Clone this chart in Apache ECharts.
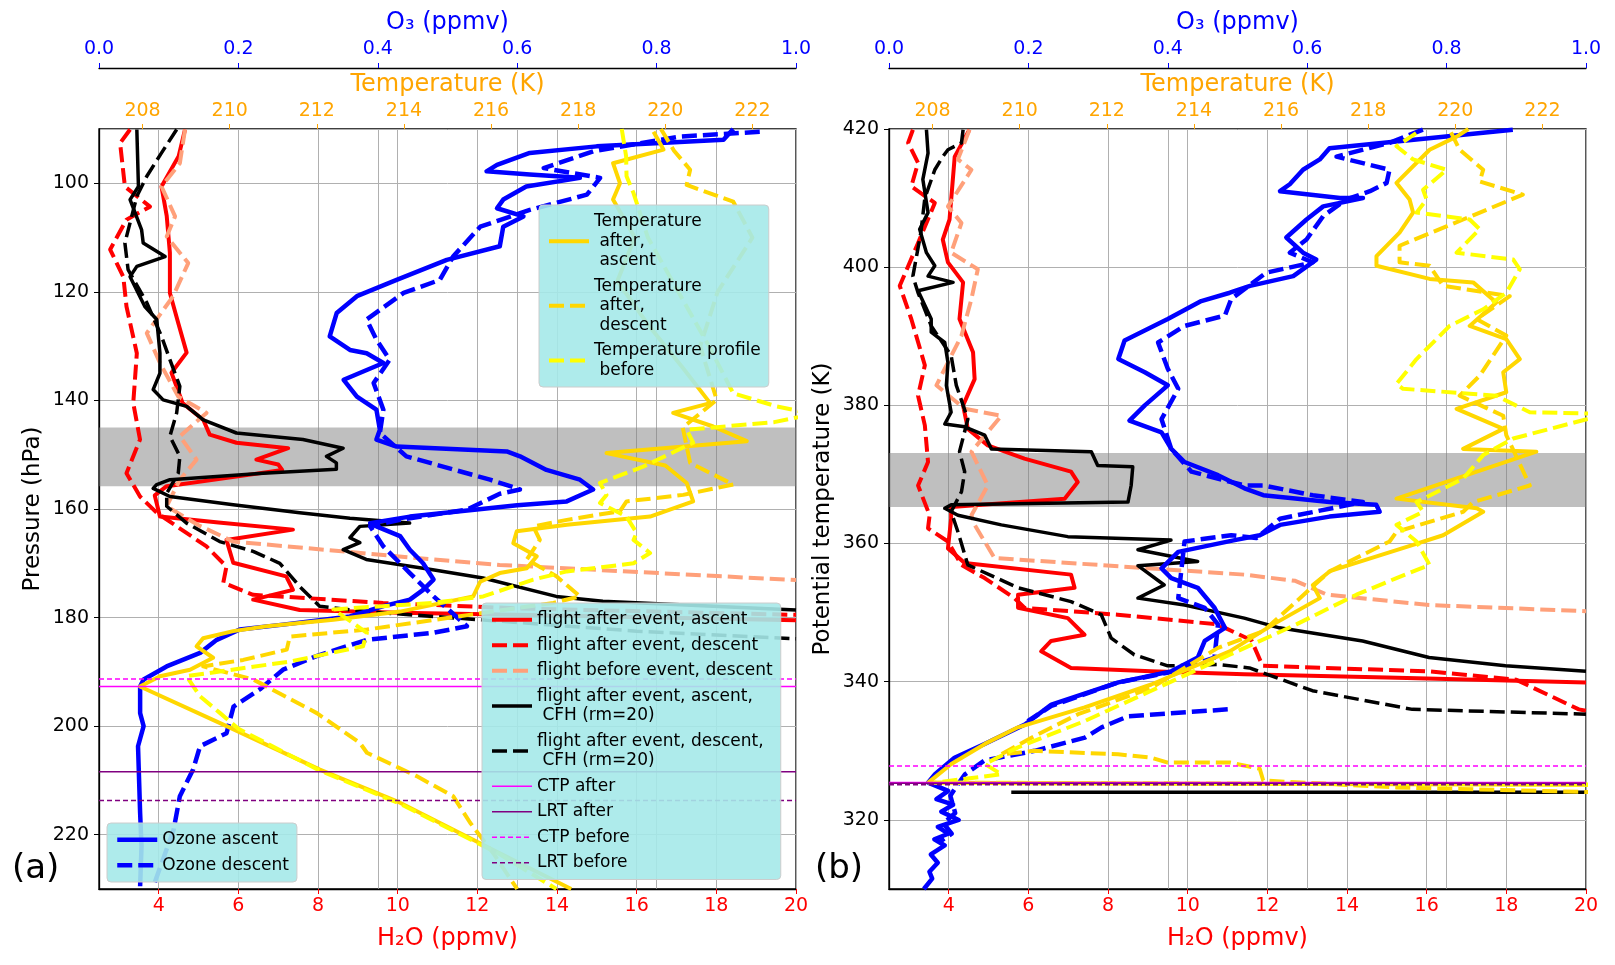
<!DOCTYPE html>
<html>
<head>
<meta charset="utf-8">
<script src="https://cdn.jsdelivr.net/npm/echarts@6/dist/echarts.min.js"></script>
<style>
  html, body { margin: 0; padding: 0; background: #fff; }
  #chart { width: 1615px; height: 965px; }
</style>
</head>
<body>
<div id="chart"></div>
<script>
const FONT = 'DejaVu Sans';

// axis ranges
const h2oRange = [2.5, 20];
const o3Range = [0, 1];
const tempRange = [207, 223];
const presRange = [90, 230];
const thetaRange = [310, 420];

// grey layer between the two tropopause estimates
const bandPres = [145, 155.8];
const bandTheta = [365.3, 373.1];

// cloud top / lapse rate tropopause levels
const ctpAfterP = 192.7, lrtAfterP = 208.4, ctpBeforeP = 191.3, lrtBeforeP = 213.7;
const ctpAfterTh = 325.4, lrtAfterTh = 325.3, ctpBeforeTh = 327.8, lrtBeforeTh = 325.1;

// ---------- panel (a): [value, pressure hPa] ----------
const redAscP = [[4.66,90.1],[4.5,95],[4.07,100.6],[4.2,106],[4.28,112.8],[4.28,120.2],[4.5,126],[4.7,131.2],[4.32,134.9],[4.6,140.5],[5.12,143.6],[5.28,146.3],[5.95,147.8],[7.25,148.8],[6.45,150.9],[7.0,151.8],[7.1,152.8],[5.5,154.5],[4.2,155.8],[3.9,157.5],[4.03,161.4],[5.5,162.5],[7.37,163.8],[5.7,165.7],[5.87,169.9],[7.2,172.4],[7.37,174.9],[6.37,176.7],[7.54,178.6],[10.05,179.1],[14,179.6],[20,180.5]];
const redDesP = [[3.28,90.1],[3.03,92.6],[3.15,100.6],[3.78,104.3],[3.19,106.7],[2.78,112.2],[3.11,117.2],[3.19,122.7],[3.45,131.3],[3.36,140.5],[3.53,147.2],[3.19,153.4],[3.53,157.7],[3.95,160.7],[5.2,166.9],[5.7,170.6],[5.62,173.6],[6.37,175.8],[9.63,177.3],[13,178.3],[20,179.5]];
const salmonDesP = [[4.66,90.1],[4.53,96.3],[4.07,100.6],[4.41,106.1],[4.2,109.8],[4.74,114.7],[4.36,120.8],[3.7,127.6],[4.03,133.1],[4.49,139.3],[5.2,142.3],[4.53,146.6],[4.95,150.9],[4.53,154.6],[4.2,159.5],[5.0,163],[5.87,166],[9.97,168.7],[12.56,170.3],[20,173.1]];
const cfhAscP = [[3.45,90.1],[3.49,100.6],[3.28,103],[3.57,108.6],[3.61,111],[4.16,113.5],[3.45,115.3],[3.28,117.2],[3.65,122.7],[3.95,125.1],[4.03,131.3],[4.03,135],[3.86,138],[4.11,139.9],[4.7,141.1],[5.12,143.6],[5.95,146],[7.62,147.2],[8.63,148.8],[8.21,150.3],[8.46,151.5],[8.46,152.7],[6.62,153.4],[4.28,154.6],[3.95,155.5],[3.86,156.2],[4.28,157.7],[5.87,159.2],[7.54,160.7],[8.8,161.7],[10.3,162.6],[9.05,163.2],[8.8,165.3],[9.05,166.2],[8.63,167.5],[9.21,169.3],[10.88,171.2],[12.14,172.7],[13.98,176.1],[15.15,177],[20,178.6]];
const cfhDesP = [[4.45,90.1],[4.07,94.4],[3.7,98.7],[3.45,102.4],[3.15,111],[3.23,115.9],[3.7,122],[4.07,128.2],[4.28,132.5],[4.53,137.4],[4.45,142.3],[4.28,146.6],[4.53,150.3],[4.49,153.4],[4.2,157.1],[4.2,159.5],[4.7,162.6],[5.53,166],[6.37,167.8],[7.04,170],[7.54,174.3],[8.04,177.9],[9.21,178.9],[12.06,180.4],[16,182.5],[20,183.9]];
const o3AscP = [[0.91,90],[0.896,92],[0.714,93.2],[0.618,94.4],[0.571,96.6],[0.556,97.8],[0.618,98.4],[0.69,99],[0.613,100.6],[0.58,103],[0.571,104.6],[0.609,106.1],[0.58,108],[0.575,111.6],[0.499,114.1],[0.427,117.8],[0.37,120.8],[0.341,123.9],[0.331,128.2],[0.36,130.7],[0.384,131.3],[0.408,133.1],[0.351,136.2],[0.37,139.3],[0.398,141.7],[0.403,145.4],[0.398,147.2],[0.427,148.5],[0.585,149.4],[0.604,150.3],[0.642,152.8],[0.69,154.6],[0.709,156.4],[0.671,158.6],[0.6,159.3],[0.542,160.1],[0.446,161.4],[0.389,162.6],[0.398,163.2],[0.432,165],[0.446,167.5],[0.465,170],[0.48,173],[0.465,174.9],[0.446,176.7],[0.408,177.9],[0.36,179.8],[0.264,181.3],[0.202,182.2],[0.169,184.1],[0.145,186.5],[0.097,189],[0.064,191.4],[0.059,192.7],[0.059,197.6],[0.064,200],[0.056,203.7],[0.059,216],[0.061,222.1],[0.059,229.5]];
const o3DesP = [[0.948,90.5],[0.834,91.4],[0.709,94.1],[0.638,97.2],[0.719,99],[0.7,102.1],[0.618,104.9],[0.547,108],[0.508,113.5],[0.489,117.8],[0.437,120.2],[0.384,125.1],[0.398,128.8],[0.417,132.5],[0.394,136.8],[0.408,141.7],[0.403,146],[0.441,150.3],[0.561,154.6],[0.59,155.8],[0.604,156.4],[0.575,157.2],[0.528,160.1],[0.432,162],[0.389,163.2],[0.408,166.9],[0.446,171.8],[0.48,176.1],[0.528,181.6],[0.48,182.8],[0.384,184.1],[0.312,187.1],[0.264,189.6],[0.231,193.2],[0.193,196.4],[0.183,201.3],[0.145,203.7],[0.135,208],[0.116,212.9],[0.107,219.1],[0.078,229.5]];
const tAscP = [[219.73,90.5],[219.96,93.8],[218.8,96.3],[218.96,100],[218.8,103],[219.3,110],[218.9,118],[219.6,126],[220.4,134],[221.03,140.5],[220.18,142.3],[221.1,144.8],[221.87,147.5],[218.65,149.7],[220.0,152],[220.49,155.2],[220.64,158.6],[219.65,161.4],[217.74,162.9],[216.59,164.1],[216.51,166.3],[217.05,168.7],[216.82,170.9],[216.2,171.8],[215.75,173.4],[215.59,176.1],[213.91,178.9],[212.38,180.4],[210.85,181.6],[210.08,182.5],[209.39,183.8],[209.24,185.3],[209.62,187.4],[209.09,189.6],[208.4,190.8],[207.94,192.7],[209.93,200],[212.07,208],[213.91,214.1],[216.2,223.4],[217.84,230]];
const tDesP = [[219.9,90],[220.2,94],[220.57,97.5],[220.49,100.3],[221.56,103.4],[222,110],[221.2,120],[220.8,130],[221.18,139.9],[220.4,145],[220.57,151.5],[221.56,155.5],[220.41,157.4],[219.11,158.6],[218.96,160.4],[217.74,162],[216.97,163.2],[217.12,165.7],[216.82,169.3],[217.5,172.4],[218.04,176.1],[217.43,177.3],[215.5,179.5],[213.15,182.2],[211.38,183.5],[211.31,185.9],[210.31,187.8],[209.39,189],[210.54,191.4],[212,197.6],[212.99,203.1],[213.15,204.9],[214.29,209.2],[215.13,212.9],[215.52,217.8],[216.05,223.4],[216.6,230]];
const tBeforeP = [[219.0,90],[219.1,95],[219.11,98.7],[219.27,101.8],[219.6,110],[220.3,120],[221,130],[221.56,138.7],[222.56,141.1],[223.4,142.5],[222.5,144],[220.49,145.4],[220.64,147.8],[219.49,152.2],[218.5,155.2],[218.65,157.4],[218.5,158.9],[219.11,161.4],[219.34,164.4],[219.27,165.7],[219.65,168.1],[219.27,170],[217.74,171.5],[216.97,173],[215.82,176.1],[214.67,177.3],[212.38,178.5],[213.15,182.8],[213.06,185.3],[211.38,188.1],[209.01,190.8],[209.32,194.5],[209.78,197.6],[210.2,200.5],[212.07,208.2],[213.91,214.3],[216.2,223.6],[217.5,230]];

// ---------- panel (b): [value, potential temperature K] ----------
const redAscTh = [[4.52,419.9],[4.15,416],[4.02,406.9],[3.85,404],[3.98,400.7],[4.36,397.8],[4.27,392.5],[4.61,387.7],[4.65,383.8],[4.36,380],[4.48,376.6],[4.98,374.2],[5.9,372.3],[7.07,370.4],[7.24,368.9],[6.91,366.5],[4.06,365.3],[4.06,363.6],[3.98,359.3],[4.4,357.2],[7.07,355.5],[7.16,353.6],[5.74,352.6],[5.74,350.7],[6.99,349.2],[7.41,346.8],[6.57,345.9],[6.32,344.4],[7.07,342],[9.08,341.5],[11.42,341.1],[15,340.6],[20,339.9]];
const redDesTh = [[3.1,419.9],[2.98,418],[3.23,415.1],[3.06,411.7],[3.65,409.3],[3.23,403.5],[2.77,397.3],[3.06,392.5],[3.4,385.8],[3.23,381.4],[3.4,377.1],[3.48,371.8],[3.23,368.4],[3.52,364.1],[3.48,362.2],[3.98,360.3],[4.32,356.9],[4.9,355],[5.65,352.1],[5.9,350.7],[8.24,349.7],[10.75,348.3],[11.6,346],[11.88,342.3],[16.06,341.5],[18.24,340.3],[19.82,336],[20,335.8]];
const salmonDesTh = [[4.52,419.9],[4.23,415.6],[4.57,414.1],[3.98,408.8],[4.32,406.4],[4.06,402.1],[4.73,399.7],[4.57,395.4],[4.32,390.1],[3.69,382.9],[4.4,379.5],[5.32,378.5],[4.57,373.3],[4.98,368.4],[4.57,364.1],[4.65,362.7],[5.15,357.9],[9.08,356.4],[11.42,355.5],[12.7,354.6],[13.5,352.6],[16.06,351.1],[20,350.2]];
const cfhAscTh = [[3.44,419.9],[3.48,416.5],[3.35,412.7],[3.48,407.9],[3.27,405.5],[3.44,402.1],[3.65,400.2],[3.48,398.7],[4.11,397.8],[3.23,396.6],[3.56,392.5],[3.56,390.6],[3.9,389.1],[3.98,386.2],[3.94,382.9],[4.06,379],[3.9,377.3],[4.4,376.9],[4.9,375.7],[5.07,373.7],[7.58,373.3],[7.74,371.3],[8.62,371.1],[8.58,368.4],[8.5,366],[4.06,365.6],[3.9,365.1],[4.23,364.1],[5.32,362.7],[6.99,361],[9.58,360.5],[8.75,359.1],[10.25,357.4],[8.75,356.8],[9.41,354],[8.75,352.1],[9.92,351.1],[11.42,349.2],[12.3,347.8],[14.39,345.9],[16.06,343.5],[17.98,342.3],[20,341.5],null,[5.57,324],[20,324]];
const cfhDesTh = [[4.36,419.9],[4.32,418],[3.98,417],[3.85,416],[3.65,414.1],[3.4,410],[3.3,405],[3.1,398.7],[3.23,396.3],[3.56,391.5],[4.06,387.2],[4.19,382.9],[4.48,378],[4.27,373.3],[4.4,370.4],[4.32,367.5],[4.06,364.6],[4.23,361.7],[4.48,356.9],[5.74,353.6],[7.07,351.6],[7.83,349.7],[8.08,346.3],[8.66,343.9],[9.5,342.3],[10.75,342.5],[11.55,342],[13.13,338.7],[15.64,336],[20,335.3]];
const o3AscTh = [[0.895,419.9],[0.728,418.2],[0.632,417.2],[0.618,415.6],[0.594,414.1],[0.575,412],[0.561,411],[0.647,410],[0.68,410],[0.623,408.8],[0.599,406.9],[0.57,404.3],[0.594,402.1],[0.613,401.1],[0.58,398.7],[0.518,397.3],[0.489,396.3],[0.448,395.1],[0.4,392.5],[0.338,389.4],[0.329,386.7],[0.367,384.8],[0.4,382.9],[0.367,380],[0.345,377.8],[0.391,376.1],[0.405,373.7],[0.424,371.8],[0.472,369.9],[0.51,368],[0.537,367],[0.632,366],[0.699,365.6],[0.704,364.6],[0.632,363.9],[0.561,362.7],[0.532,361.2],[0.496,360.5],[0.415,358.8],[0.391,356.4],[0.405,355],[0.443,353.6],[0.467,350.7],[0.482,347.8],[0.453,345.9],[0.443,343.5],[0.405,341.5],[0.329,339.9],[0.233,336.7],[0.195,333.8],[0.137,331],[0.094,329],[0.066,326.6],[0.056,325.4],[0.085,324.2],[0.068,323],[0.092,322.2],[0.075,321.2],[0.1,320],[0.07,319],[0.085,318],[0.065,317.2],[0.08,316.3],[0.06,315],[0.07,313.8],[0.058,312.5],[0.062,311.5],[0.05,310]];
const o3DesTh = [[0.766,419.9],[0.718,418],[0.642,416],[0.718,414.1],[0.714,412.2],[0.69,411],[0.656,409.8],[0.623,407.4],[0.599,404],[0.575,402.1],[0.608,400.7],[0.541,399.2],[0.491,395.4],[0.482,393],[0.424,391.5],[0.386,389.1],[0.4,385.3],[0.415,382.4],[0.391,378],[0.405,373.7],[0.434,370.4],[0.51,368.4],[0.537,368.4],[0.608,367],[0.68,366],[0.62,364.8],[0.561,363.6],[0.527,360.8],[0.491,361.2],[0.424,360.3],[0.415,352.1],[0.453,350.7],[0.472,348.3],[0.467,343.5],[0.41,341.5],[0.329,339.9],[0.233,336.5],[0.199,334.3],null,[0.486,336],[0.343,335],[0.305,333.4],[0.281,331.9],[0.209,330],[0.137,328.6],[0.109,326.6],[0.099,325.2],[0.088,323.5],[0.095,321],[0.078,319.5],[0.09,318],[0.072,316.8]];
const tAscTh = [[220.3,420],[220.03,418.9],[219.41,417],[218.65,412.2],[218.95,409.8],[219.03,407.9],[218.72,405],[218.19,401.6],[218.19,400.2],[219.41,398.3],[220.41,397.8],[220.94,394.9],[220.33,391.5],[221.17,389.6],[221.48,386.7],[221.1,384.8],[221.17,381.9],[220.03,379.5],[221.1,376.6],[220.18,373.7],[221.86,373.3],[218.65,366.5],[220.49,365.1],[220.64,364.6],[219.72,361.2],[219.03,359.8],[217.12,356],[216.73,354],[216.89,352.1],[215.82,348.3],[214.82,344.4],[213.02,339.6],[211.49,336.3],[209.96,333.4],[209.2,331],[208.43,328.1],[207.9,325.4],[209.96,325.3],[223.2,325.1]];
const tDesTh = [[219.9,419.5],[220.1,417],[220.64,414.1],[220.56,412.4],[221.55,410.5],[220.18,406.9],[218.72,403.1],[218.72,400.7],[219.41,400.2],[219.72,397.3],[221.25,395.8],[220.49,392.5],[221.17,390.1],[220.56,384.3],[220.1,381.4],[221.1,378.5],[221.17,375.7],[221.71,368.4],[220.41,366],[220.18,364.6],[218.65,361.7],[218.49,360.3],[217.12,356],[215.59,347.3],[214.55,344.9],[213.02,339.1],[211.34,335.3],[210.27,331.9],[209.58,329.5],[210.35,330],[212.26,329.5],[213.02,329],[213.4,328.3],[214.82,328.3],[215.51,327.4],[215.59,325.7],[218.65,324.7],[223.2,324]];
const tBeforeTh = [[219.1,419.4],[218.65,417.5],[219.03,415.6],[219.8,414.1],[219.26,411.2],[219.34,409.8],[219.11,407.9],[220.33,406.9],[220.56,405.5],[220.03,402.1],[221.33,401.1],[221.48,399.7],[221.17,396.3],[220.64,393.9],[219.87,391.5],[219.11,386.7],[218.65,383.1],[218.8,382.4],[220.94,381.4],[221.71,379],[223.2,378.8],[223.2,378.3],[221.33,375.2],[220.64,372.8],[220.18,369.4],[219.11,366],[219.26,364.6],[218.65,362.7],[219.11,360.3],[219.41,356.9],[218.65,355],[217.73,352.6],[216.35,348.3],[214.82,343.9],[213.02,338.7],[211.49,334.3],[209.96,330.5],[209.2,328.1],[209.58,326.6],[208.05,325.4],[223.2,325.1]];

// legend labels that wrap like the original
const legendText = {
  'Temperature after, ascent': 'Temperature\n after,\n ascent',
  'Temperature after, descent': 'Temperature\n after,\n descent',
  'Temperature profile before': 'Temperature profile\n before',
  'flight after event, ascent, CFH (rm=20)': 'flight after event, ascent,\n CFH (rm=20)',
  'flight after event, descent, CFH (rm=20)': 'flight after event, descent,\n CFH (rm=20)'
};

const DASH = [15, 6];
const THIN_DASH = [5, 3];

function line(name, xi, yi, data, color, width, dash) {
  return {
    name: name, type: 'line', xAxisIndex: xi, yAxisIndex: yi, data: data,
    symbol: 'none', showSymbol: false, silent: true, clip: true, connectNulls: false,
    lineStyle: { color: color, width: width, type: dash || 'solid', cap: 'butt', join: 'round' },
    itemStyle: { color: color },
    emphasis: { disabled: true }
  };
}
function hline(v) { return [[h2oRange[0], v], [h2oRange[1], v]]; }

function panelSeries(xh, xo, xt, yi, d, band, lv) {
  const ctp = line('CTP after', xh, yi, hline(lv[0]), '#ff00ff', 1.5);
  ctp.markArea = {
    silent: true,
    itemStyle: { color: 'rgba(128,128,128,0.5)' },
    data: [[{ yAxis: band[0] }, { yAxis: band[1] }]]
  };
  return [
    line('flight after event, ascent', xh, yi, d[0], '#ff0000', 4),
    line('flight after event, descent', xh, yi, d[1], '#ff0000', 4, DASH),
    line('flight before event, descent', xh, yi, d[2], '#ffa07a', 4, DASH),
    line('flight after event, ascent, CFH (rm=20)', xh, yi, d[3], '#000000', 3.5),
    line('flight after event, descent, CFH (rm=20)', xh, yi, d[4], '#000000', 3.5, DASH),
    line('Ozone ascent', xo, yi, d[5], '#0000ff', 4.5),
    line('Ozone descent', xo, yi, d[6], '#0000ff', 4.5, DASH),
    line('Temperature after, ascent', xt, yi, d[7], '#ffd700', 4),
    line('Temperature after, descent', xt, yi, d[8], '#ffd700', 4, DASH),
    line('Temperature profile before', xt, yi, d[9], '#ffff00', 4, DASH),
    ctp,
    line('LRT after', xh, yi, hline(lv[1]), '#800080', 1.5),
    line('CTP before', xh, yi, hline(lv[2]), '#ff00ff', 1.5, THIN_DASH),
    line('LRT before', xh, yi, hline(lv[3]), '#800080', 1.5, THIN_DASH)
  ];
}

const GRID_LINE = { show: true, lineStyle: { color: '#b0b0b0', width: 1 } };

function h2oAxis(gi) {
  return {
    type: 'value', gridIndex: gi, position: 'bottom', min: h2oRange[0], max: h2oRange[1], splitNumber: 8,
    axisLine: { show: true, onZero: false, lineStyle: { color: '#000', width: 1.3 } },
    axisTick: { show: true, length: 5, lineStyle: { color: '#ff0000' } },
    axisLabel: { color: '#ff0000', fontSize: 19, fontFamily: FONT, margin: 8, showMinLabel: false, showMaxLabel: true },
    splitLine: GRID_LINE,
    name: 'H₂O (ppmv)', nameLocation: 'middle', nameGap: 38,
    nameTextStyle: { color: '#ff0000', fontSize: 24, fontFamily: FONT }
  };
}
function o3Axis(gi) {
  return {
    type: 'value', gridIndex: gi, position: 'top', offset: 61, min: o3Range[0], max: o3Range[1], interval: 0.2,
    axisLine: { show: true, onZero: false, lineStyle: { color: '#000', width: 1.3 } },
    axisTick: { show: true, length: 5, lineStyle: { color: '#0000ff' } },
    axisLabel: { color: '#0000ff', fontSize: 19, fontFamily: FONT, margin: 9, formatter: v => v.toFixed(1) },
    splitLine: GRID_LINE,
    name: 'O₃ (ppmv)', nameLocation: 'middle', nameGap: 27,
    nameTextStyle: { color: '#0000ff', fontSize: 24, fontFamily: FONT }
  };
}
function tempAxis(gi) {
  return {
    type: 'value', gridIndex: gi, position: 'top', offset: 0, min: tempRange[0], max: tempRange[1], splitNumber: 8,
    axisLine: { show: false, onZero: false },
    axisTick: { show: true, length: 5, lineStyle: { color: '#ffa500' } },
    axisLabel: { color: '#ffa500', fontSize: 19, fontFamily: FONT, margin: 8, showMinLabel: false, showMaxLabel: false },
    splitLine: { show: false },
    name: 'Temperature (K)', nameLocation: 'middle', nameGap: 27,
    nameTextStyle: { color: '#ffa500', fontSize: 24, fontFamily: FONT }
  };
}
function yAxis(gi, range, split, inverse, name, showMax) {
  return {
    type: 'value', gridIndex: gi, position: 'left', min: range[0], max: range[1], splitNumber: split, inverse: inverse,
    axisLine: { show: true, onZero: false, lineStyle: { color: '#000', width: 1.3 } },
    axisTick: { show: true, length: 5, lineStyle: { color: '#000' } },
    axisLabel: { color: '#000', fontSize: 19, fontFamily: FONT, margin: 10, showMinLabel: false, showMaxLabel: showMax },
    splitLine: GRID_LINE,
    name: name, nameLocation: 'middle', nameGap: 54,
    nameTextStyle: { color: '#000', fontSize: 23, fontFamily: FONT }
  };
}

const legendBase = {
  orient: 'vertical', itemWidth: 40, itemHeight: 12, itemGap: 6,
  backgroundColor: 'rgba(165,233,233,0.9)', borderColor: '#cccccc', borderWidth: 1, borderRadius: 4,
  padding: [7, 8, 7, 8], selectedMode: false,
  itemStyle: { opacity: 0, borderWidth: 0 },
  lineStyle: { width: 'inherit' },
  textStyle: { fontFamily: FONT, fontSize: 17, lineHeight: 19.5, color: '#000' },
  formatter: name => legendText[name] || name
};

const chart = echarts.init(document.getElementById('chart'), null, { renderer: 'canvas' });
chart.setOption({
  animation: false,
  backgroundColor: '#ffffff',
  textStyle: { fontFamily: FONT },
  grid: [
    { left: 99, top: 129, width: 697, height: 760, show: true, borderColor: '#000', borderWidth: 1.3, backgroundColor: 'transparent', outerBoundsMode: 'none' },
    { left: 889, top: 129, width: 697, height: 760, show: true, borderColor: '#000', borderWidth: 1.3, backgroundColor: 'transparent', outerBoundsMode: 'none' }
  ],
  xAxis: [h2oAxis(0), o3Axis(0), tempAxis(0), h2oAxis(1), o3Axis(1), tempAxis(1)],
  yAxis: [
    yAxis(0, presRange, 7, true, 'Pressure (hPa)', false),
    yAxis(1, thetaRange, 6, false, 'Potential temperature (K)', true)
  ],
  legend: [
    Object.assign({}, legendBase, {
      left: 539, top: 205,
      data: ['Temperature after, ascent', 'Temperature after, descent', 'Temperature profile before']
    }),
    Object.assign({}, legendBase, {
      left: 482, top: 603,
      data: ['flight after event, ascent', 'flight after event, descent', 'flight before event, descent',
             'flight after event, ascent, CFH (rm=20)', 'flight after event, descent, CFH (rm=20)',
             'CTP after', 'LRT after', 'CTP before', 'LRT before']
    }),
    Object.assign({}, legendBase, {
      left: 107, top: 823,
      data: ['Ozone ascent', 'Ozone descent']
    })
  ],
  graphic: [
    { type: 'text', left: 12, top: 852, style: { text: '(a)', fontSize: 34, fontFamily: FONT, fill: '#000' } },
    { type: 'text', left: 815, top: 852, style: { text: '(b)', fontSize: 34, fontFamily: FONT, fill: '#000' } }
  ],
  series: [].concat(
    panelSeries(0, 1, 2, 0,
      [redAscP, redDesP, salmonDesP, cfhAscP, cfhDesP, o3AscP, o3DesP, tAscP, tDesP, tBeforeP],
      bandPres, [ctpAfterP, lrtAfterP, ctpBeforeP, lrtBeforeP]),
    panelSeries(3, 4, 5, 1,
      [redAscTh, redDesTh, salmonDesTh, cfhAscTh, cfhDesTh, o3AscTh, o3DesTh, tAscTh, tDesTh, tBeforeTh],
      bandTheta, [ctpAfterTh, lrtAfterTh, ctpBeforeTh, lrtBeforeTh])
  )
});
</script>
</body>
</html>
